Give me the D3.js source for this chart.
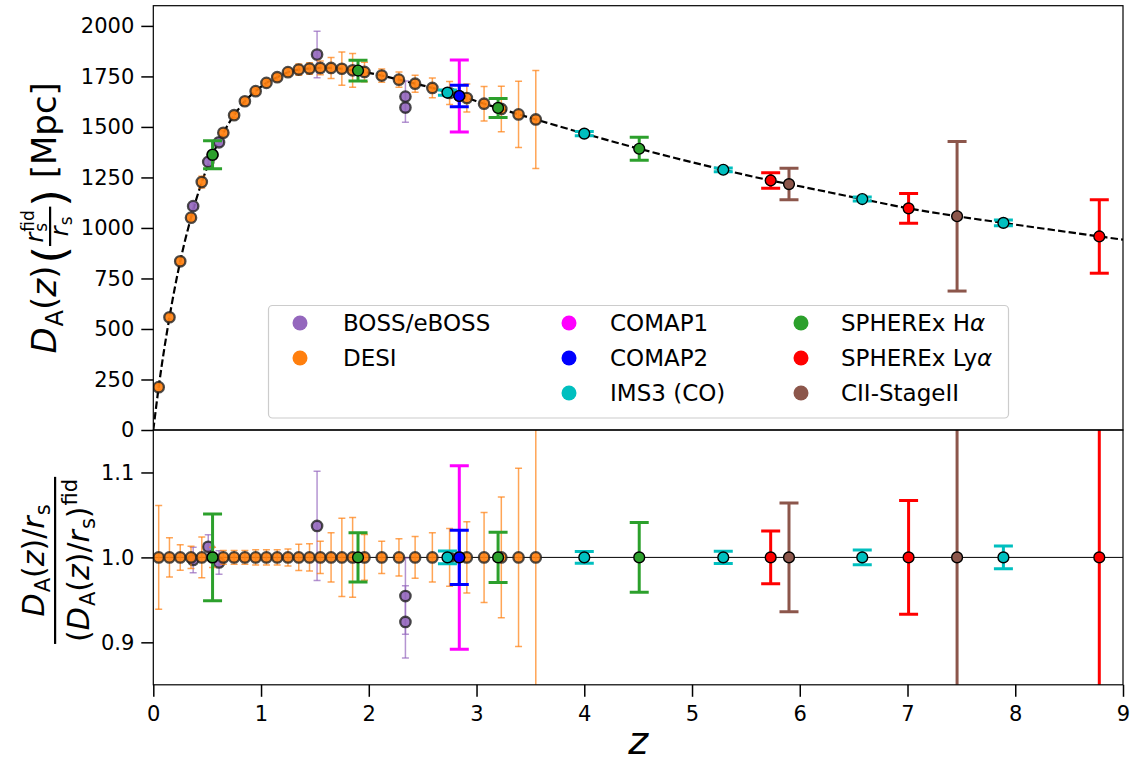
<!DOCTYPE html>
<html><head><meta charset="utf-8">
<script src="https://cdn.jsdelivr.net/npm/d3@7"></script>
<style>
body{margin:0;background:#fff;}
svg{font-family:"DejaVu Sans",sans-serif;}
</style></head><body>
<svg id="chart" width="1130" height="764"></svg>
<script>
// ---------- data ----------
const xTicks = [0,1,2,3,4,5,6,7,8,9];
const upperTicks = [0,250,500,750,1000,1250,1500,1750,2000];
const lowerTicks = [0.9,1.0,1.1];

// fiducial D_A(z) curve (dashed)
const fidZ  = [0,0.05,0.15,0.25,0.35,0.45,0.55,0.65,0.75,0.85,0.95,1.05,1.15,1.25,1.35,1.45,1.55,1.65,1.75,1.85,1.96,2.12,2.28,2.43,2.59,2.75,2.91,3.07,3.23,3.39,3.55,4.0,4.51,5.29,5.73,5.9,6.58,7.01,7.46,7.89,8.78,9.0];
const fidDA = [0,212,558,835,1051,1227,1362,1471,1558,1627,1677,1718,1746,1771,1784,1789,1792,1792,1788,1780,1772,1754,1734,1714,1693,1668,1643,1615,1589,1562,1537,1467,1392,1288,1235,1217,1143,1097,1058,1025,958,942];

// BOSS/eBOSS
const bossZ     = [0.37,0.51,0.61,1.52,2.34,2.34];
const bossDA    = [1108,1327,1424,1858,1650,1596];
const bossRatio = [0.997,1.0125,0.994,1.037,0.9545,0.924];
const bossErr   = [0.015,0.014,0.014,0.062,0.047,0.046];

// DESI
const desiZ   = [0.05,0.15,0.25,0.35,0.45,0.55,0.65,0.75,0.85,0.95,1.05,1.15,1.25,1.35,1.45,1.55,1.65,1.75,1.85,1.96,2.12,2.28,2.43,2.59,2.75,2.91,3.07,3.23,3.39,3.55];
const desiDA  = [212,558,835,1051,1227,1362,1471,1558,1627,1677,1718,1746,1771,1784,1789,1792,1792,1788,1780,1772,1754,1734,1714,1693,1668,1643,1615,1589,1562,1537];
const desiRatio = [1,1,1,1,1,1,1,1,1,1,1,1,1,1,1,1,1,1,1,1,1,1,1,1,1,1,1,1,1,1];
const desiErr = [0.061,0.023,0.015,0.013,0.024,0.012,0.008,0.008,0.008,0.009,0.009,0.009,0.010,0.0155,0.016,0.019,0.029,0.046,0.047,0.027,0.019,0.022,0.0245,0.029,0.034,0.042,0.053,0.071,0.105,0.158];

// COMAP1 / COMAP2
const comap1Z = [2.84], comap1DA = [1653], comap1Ratio = [1.0], comap1Err = [0.108];
const comap2Z = [2.84], comap2DA = [1653], comap2Ratio = [1.0], comap2Err = [0.032];

// IMS3 (CO)
const imsZ = [2.73,4.0,5.29,6.58,7.89];
const imsDA = [1670,1467,1288,1143,1025];
const imsRatio = [1,1,1,1,1];
const imsErr = [0.0076,0.007,0.0072,0.0088,0.0135];

// SPHEREx Halpha
const haZ = [0.55,1.9,3.2,4.51];
const haDA = [1362,1779,1594,1392];
const haRatio = [1,1,1,1];
const haErr = [0.051,0.029,0.0296,0.041];

// SPHEREx Lyalpha
const lyaZ = [5.73,7.01,8.78];
const lyaDA = [1235,1097,958];
const lyaRatio = [1,1,1];
const lyaErr = [0.031,0.067,0.19];

// CII-StageII
const ciiZ = [5.9,7.46];
const ciiDA = [1217,1058];
const ciiRatio = [1,1];
const ciiErr = [0.064,0.35];

// ---------- build ----------
const series = [
  {key:'boss',  z:bossZ,  da:bossDA,  r:bossRatio,  e:bossErr,  color:'#9467bd', light:true},
  {key:'desi',  z:desiZ,  da:desiDA,  r:desiRatio,  e:desiErr,  color:'#ff7f0e', light:true},
  {key:'ims',   z:imsZ,   da:imsDA,   r:imsRatio,   e:imsErr,   color:'#00bfbf'},
  {key:'comap1',z:comap1Z,da:comap1DA,r:comap1Ratio,e:comap1Err,color:'#ff00ff'},
  {key:'comap2',z:comap2Z,da:comap2DA,r:comap2Ratio,e:comap2Err,color:'#0000ff'},
  {key:'ha',    z:haZ,    da:haDA,    r:haRatio,    e:haErr,    color:'#2ca02c'},
  {key:'lya',   z:lyaZ,   da:lyaDA,   r:lyaRatio,   e:lyaErr,   color:'#ff0000'},
  {key:'cii',   z:ciiZ,   da:ciiDA,   r:ciiRatio,   e:ciiErr,   color:'#8c564b'}
];
const legendItems = [
  {label:'BOSS/eBOSS', color:'#9467bd', col:0, row:0},
  {label:'DESI', color:'#ff7f0e', col:0, row:1},
  {label:'COMAP1', color:'#ff00ff', col:1, row:0},
  {label:'COMAP2', color:'#0000ff', col:1, row:1},
  {label:'IMS3 (CO)', color:'#00bfbf', col:1, row:2},
  {label:'SPHEREx H', greek:'α', color:'#2ca02c', col:2, row:0},
  {label:'SPHEREx Ly', greek:'α', color:'#ff0000', col:2, row:1},
  {label:'CII-StageII', color:'#8c564b', col:2, row:2}
];

const svg = d3.select('#chart');
const X0=153.3, X1=1123, YT=5.7, YM=430, YB=684.8;
const x  = d3.scaleLinear().domain([0,9]).range([X0,X1]);
const yU = d3.scaleLinear().domain([0,2100]).range([YM,YT]);
const yL = d3.scaleLinear().domain([0.85,1.15]).range([YB,YM]);

const defs = svg.append('defs');
defs.append('clipPath').attr('id','clipU').append('rect').attr('x',X0).attr('y',YT).attr('width',X1-X0).attr('height',YM-YT);
defs.append('clipPath').attr('id','clipL').append('rect').attr('x',X0).attr('y',YM).attr('width',X1-X0).attr('height',YB-YM);

const gU = svg.append('g').attr('clip-path','url(#clipU)');
const gL = svg.append('g').attr('clip-path','url(#clipL)');

// fiducial dashed curve
const fidPts = fidZ.map((z,i)=>[z,fidDA[i]]);
gU.append('path').datum(fidPts)
  .attr('d', d3.line().x(d=>x(d[0])).y(d=>yU(d[1])).curve(d3.curveMonotoneX))
  .attr('fill','none').attr('stroke','#000').attr('stroke-width',2.2).attr('stroke-dasharray','7.4,3.2');

// reference line in the ratio panel
gL.append('line').attr('x1',X0).attr('x2',X1).attr('y1',yL(1)).attr('y2',yL(1))
  .attr('stroke','#000').attr('stroke-width',1);

function drawSeries(g, s, yScale, valFn){
  const pts = s.z.map((z,i)=>({z, v:valFn(i), e:s.e[i]}));
  const cap = s.light ? 3.5 : 9.5;
  const lw  = s.light ? 1.5 : 3;
  const eg = g.append('g').attr('stroke', s.color).attr('stroke-width', lw)
     .attr('stroke-opacity', s.light ? 0.7 : 1);
  pts.forEach(p=>{
    const lo = yScale(p.v*(1-p.e)), hi = yScale(p.v*(1+p.e)), cx = x(p.z);
    eg.append('line').attr('x1',cx).attr('x2',cx).attr('y1',lo).attr('y2',hi);
    eg.append('line').attr('x1',cx-cap).attr('x2',cx+cap).attr('y1',lo).attr('y2',lo);
    eg.append('line').attr('x1',cx-cap).attr('x2',cx+cap).attr('y1',hi).attr('y2',hi);
  });
  g.append('g').selectAll('circle').data(pts).join('circle')
    .attr('cx',d=>x(d.z)).attr('cy',d=>yScale(d.v))
    .attr('r', s.light ? 5.2 : 5.4)
    .attr('fill', s.color).attr('fill-opacity', s.light ? 0.9 : 1)
    .attr('stroke', s.light ? '#222' : '#000')
    .attr('stroke-opacity', s.light ? 0.8 : 1)
    .attr('stroke-width', s.light ? 2.3 : 1.4);
}
series.forEach(s=>{
  drawSeries(gU, s, yU, i=>s.da[i]);
  drawSeries(gL, s, yL, i=>s.r[i]);
});

// frames
svg.append('rect').attr('x',X0).attr('y',YT).attr('width',X1-X0).attr('height',YM-YT)
  .attr('fill','none').attr('stroke','#000').attr('stroke-width',1.2);
svg.append('rect').attr('x',X0).attr('y',YM).attr('width',X1-X0).attr('height',YB-YM)
  .attr('fill','none').attr('stroke','#000').attr('stroke-width',1.2);

// axes
function styleAxis(g){
  g.select('.domain').remove();
  g.selectAll('.tick line').attr('stroke','#000').attr('stroke-width',1.5);
  g.selectAll('.tick text').attr('fill','#000').style('font-size','21px').style('font-family','"DejaVu Sans",sans-serif');
}
svg.append('g').attr('transform',`translate(${X0},0)`)
  .call(d3.axisLeft(yU).tickValues(upperTicks).tickSize(12).tickPadding(7).tickFormat(d3.format('d')))
  .call(styleAxis);
svg.append('g').attr('transform',`translate(${X0},0)`)
  .call(d3.axisLeft(yL).tickValues(lowerTicks).tickSize(12).tickPadding(7).tickFormat(d3.format('.1f')))
  .call(styleAxis);
svg.append('g').attr('transform',`translate(0,${YB})`)
  .call(d3.axisBottom(x).tickValues(xTicks).tickSize(12).tickPadding(9).tickFormat(d3.format('d')))
  .call(styleAxis);

// x label
svg.append('text').attr('x',(X0+X1)/2).attr('y',754).attr('text-anchor','middle')
  .style('font-size','38px').style('font-style','italic').text('z');

// ---------- math-like labels ----------
function run(g, xx, yy, str, size, italic){
  const t = g.append('text').attr('x',xx).attr('y',yy).style('font-size',size+'px')
    .style('font-style', italic?'italic':'normal').attr('fill','#000').text(str);
  return t.node().getComputedTextLength();
}
function seq(g, x0, base, runs){
  let xx = x0, prevStart = x0, prevEnd = x0;
  runs.forEach(r=>{
    let start = r.stack ? prevStart : xx;
    const w = run(g, start, base + (r.dy||0), r.t, r.s, r.i);
    const end = start + w + (r.k||0);
    if (r.stack){ xx = Math.max(prevEnd, end); }
    else { prevStart = start; xx = end; }
    prevEnd = Math.max(r.stack?prevEnd:0, end);
  });
  return xx;
}

// upper y label
(function(){
  const F = 34, f = 24, ff = 17;
  const outer = svg.append('g');
  const g = outer.append('g');
  let xx = 0;
  xx = seq(g, xx, 0, [
    {t:'D', s:F, i:true, k:1},
    {t:'A', s:f, dy:7},
    {t:'(', s:F},
    {t:'z', s:F, i:true},
    {t:')', s:F, k:2}
  ]);
  xx += run(g, xx, 8.6, '(', 45);
  const numG = g.append('g'), denG = g.append('g');
  const nw = seq(numG, 0, -13.5, [
    {t:'r', s:f, i:true, k:1},
    {t:'fid', s:ff, dy:-9},
    {t:'s', s:ff, dy:4.5, stack:true}
  ]);
  const dw = seq(denG, 0, 11.5, [
    {t:'r', s:f, i:true, k:1},
    {t:'s', s:ff, dy:4.5}
  ]);
  const bw = Math.max(nw, dw) + 7;
  numG.attr('transform', `translate(${xx + (bw-nw)/2},0)`);
  denG.attr('transform', `translate(${xx + (bw-dw)/2},0)`);
  g.append('rect').attr('x',xx).attr('y',-7).attr('width',bw).attr('height',2.2).attr('fill','#000');
  xx += bw;
  xx += run(g, xx, 8.6, ')', 45);
  xx += run(g, xx, 0, '\u00a0[Mpc]', F);
  const cy = (YT+YM)/2;
  outer.attr('transform', `translate(56,${cy + xx/2}) rotate(-90)`);
})();

// lower y label
(function(){
  const F = 30, f = 21;
  const outer = svg.append('g');
  const numG = outer.append('g'), denG = outer.append('g');
  const nw = seq(numG, 0, 0, [
    {t:'D', s:F, i:true, k:1},
    {t:'A', s:f, dy:6},
    {t:'(', s:F},
    {t:'z', s:F, i:true},
    {t:')', s:F},
    {t:'/', s:F},
    {t:'r', s:F, i:true, k:1},
    {t:'s', s:f, dy:6}
  ]);
  const dw = seq(denG, 0, 0, [
    {t:'(', s:F},
    {t:'D', s:F, i:true, k:1},
    {t:'A', s:f, dy:6},
    {t:'(', s:F},
    {t:'z', s:F, i:true},
    {t:')', s:F},
    {t:'/', s:F},
    {t:'r', s:F, i:true, k:1},
    {t:'s', s:f, dy:6},
    {t:')', s:F, k:1},
    {t:'fid', s:f, dy:-12}
  ]);
  const bw = Math.max(nw, dw) + 4;
  numG.attr('transform', `translate(${-nw/2},44)`);
  denG.attr('transform', `translate(${-dw/2},89)`);
  outer.append('rect').attr('x',-bw/2).attr('y',54).attr('width',bw).attr('height',2.2).attr('fill','#000');
  const cy = (YM+YB)/2 + 3;
  outer.attr('transform', `translate(0,${cy}) rotate(-90)`);
})();

// ---------- legend ----------
(function(){
  const lg = svg.append('g');
  lg.append('rect').attr('x',268.5).attr('y',305.5).attr('width',740).attr('height',112.5)
    .attr('rx',4).attr('fill','#fff').attr('fill-opacity',0.8)
    .attr('stroke','#cccccc').attr('stroke-width',1.2);
  const colMarkX = [300, 569, 801];
  const colTextX = [343, 610, 841];
  const rowY = [323, 358, 393];
  legendItems.forEach(it=>{
    lg.append('circle').attr('cx',colMarkX[it.col]).attr('cy',rowY[it.row]).attr('r',7.5).attr('fill',it.color);
    const t = lg.append('text').attr('x',colTextX[it.col]).attr('y',rowY[it.row]).attr('dy','0.36em')
      .style('font-size','23px').attr('fill','#000');
    t.append('tspan').text(it.label);
    if (it.greek) t.append('tspan').style('font-style','italic').text(it.greek);
  });
})();
</script>
</body></html>
